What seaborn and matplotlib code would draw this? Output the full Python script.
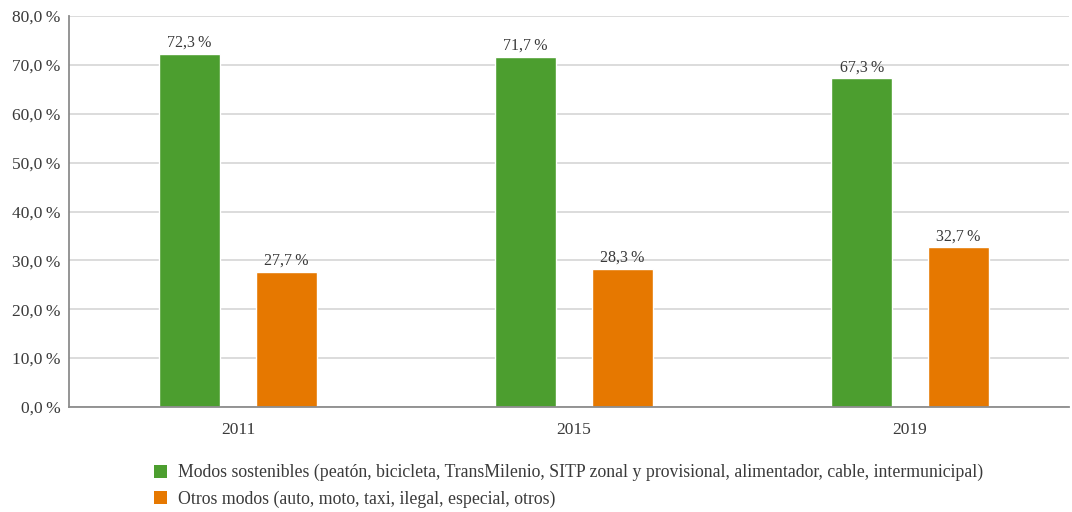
import matplotlib
matplotlib.use("Agg")
import matplotlib.pyplot as plt
import seaborn as sns
import pandas as pd
from matplotlib.patches import Patch

years = ["2011", "2015", "2019"]
sostenibles = [72.3, 71.7, 67.3]
otros = [27.7, 28.3, 32.7]
series_names = [
    "Modos sostenibles (peatón, bicicleta, TransMilenio, SITP zonal y provisional, alimentador, cable, intermunicipal)",
    "Otros modos (auto, moto, taxi, ilegal, especial, otros)",
]
colors = ["#4c9e2f", "#e67800"]
yticks = [0, 10, 20, 30, 40, 50, 60, 70, 80]

df = pd.DataFrame({
    "year": years * 2,
    "value": sostenibles + otros,
    "serie": [series_names[0]] * 3 + [series_names[1]] * 3,
})

sns.set_theme(style="white")
plt.rcParams['font.family'] = ['Liberation Serif', 'DejaVu Serif']
text_color = "#3a3a3a"

fig = plt.figure(figsize=(10.72, 5.12), dpi=100)
ax = fig.add_axes([69 / 1072, 1 - 407 / 512, 1000 / 1072, 391 / 512])

sns.barplot(data=df, x="year", y="value", hue="serie", palette=colors,
            width=0.576, gap=0.375, ax=ax, legend=False, saturation=1)

ax.set_ylim(0, 80)
ax.set_xlim(-0.503, 2.473)
ax.set_yticks(yticks)
ax.set_yticklabels([f"{v:.1f}".replace(".", ",") + "\u2009%" for v in yticks],
                   fontsize=12.5, color=text_color)
ax.tick_params(axis="x", labelsize=12.5, colors=text_color, length=0, pad=11)
ax.tick_params(axis="y", length=0, pad=6)
ax.set_xlabel("")
ax.set_ylabel("")
ax.yaxis.grid(True, color="#d9d9d9", linewidth=1.3)
ax.set_axisbelow(True)
for s in ["top", "right"]:
    ax.spines[s].set_visible(False)
ax.spines["left"].set_color("#8c8c8c")
ax.spines["bottom"].set_color("#8c8c8c")
ax.spines["left"].set_linewidth(1.3)
ax.spines["bottom"].set_linewidth(1.3)

for cont in ax.containers:
    labels = [f"{b.get_height():.1f}".replace(".", ",") + "\u2009%" for b in cont]
    ax.bar_label(cont, labels=labels, padding=2, fontsize=11.5, color=text_color)

handles = [Patch(facecolor=c, edgecolor="none") for c in colors]
fig.legend(handles, series_names, loc="upper left",
           bbox_to_anchor=(138 / 1072, 1 - 448 / 512), frameon=False,
           fontsize=12.8, handlelength=0.75, handleheight=0.75,
           handletextpad=0.6, labelspacing=0.5, labelcolor=text_color)

fig.savefig("out.png", dpi=100)
